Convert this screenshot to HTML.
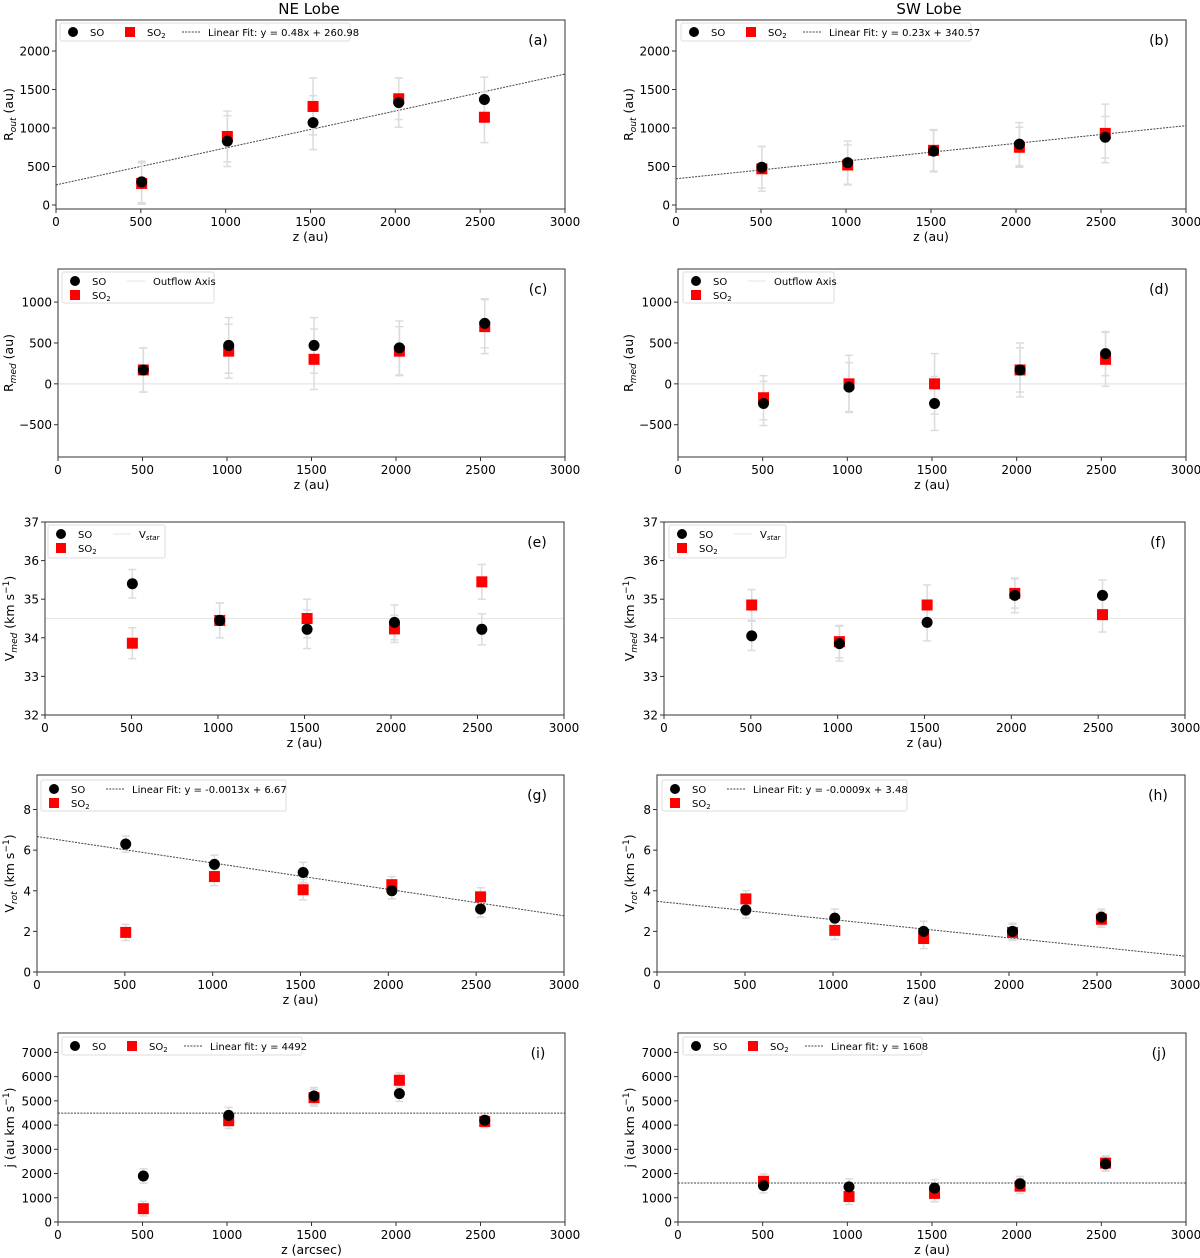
<!DOCTYPE html>
<html><head><meta charset="utf-8"><style>
body{margin:0;background:#fff;}
svg{display:block;font-family:"DejaVu Sans","Liberation Sans",sans-serif;}
</style></head><body>
<svg id="fig" width="1200" height="1258" viewBox="0 0 1200 1258" xmlns="http://www.w3.org/2000/svg">
<text x="309" y="14" font-size="15" text-anchor="middle">NE Lobe</text>
<text x="929" y="14" font-size="15" text-anchor="middle">SW Lobe</text>
</svg>
<script>
const zPos = [505, 1010, 1515, 2020, 2525];
const xTicks = [0, 500, 1000, 1500, 2000, 2500, 3000];
// (a)
const soA = [300, 830, 1070, 1330, 1370];
const soErrA = [270, 330, 350, 320, 290];
const so2A = [280, 890, 1280, 1380, 1140];
const so2ErrA = [270, 330, 370, 270, 330];
const fitA = [0.48, 260.98];
// (b)
const soB = [490, 550, 700, 790, 880];
const soErrB = [270, 280, 270, 280, 270];
const so2B = [470, 520, 710, 750, 930];
const so2ErrB = [290, 260, 270, 260, 380];
const fitB = [0.23, 340.57];
// (c)
const soC = [170, 470, 470, 440, 740];
const soErrC = [270, 340, 340, 330, 300];
const so2C = [170, 400, 300, 400, 700];
const so2ErrC = [270, 330, 370, 300, 330];
const axisC = 0;
// (d)
const soD = [-240, -40, -240, 170, 370];
const soErrD = [270, 300, 330, 270, 270];
const so2D = [-170, 0, 0, 170, 300];
const so2ErrD = [270, 350, 370, 330, 330];
const axisD = 0;
// (e)
const soE = [35.4, 34.45, 34.22, 34.4, 34.22];
const soErrE = [0.37, 0.45, 0.5, 0.45, 0.4];
const so2E = [33.86, 34.45, 34.5, 34.23, 35.45];
const so2ErrE = [0.4, 0.45, 0.5, 0.35, 0.45];
const vstarE = 34.5;
// (f)
const soF = [34.05, 33.85, 34.4, 35.1, 35.1];
const soErrF = [0.38, 0.45, 0.48, 0.45, 0.4];
const so2F = [34.85, 33.9, 34.85, 35.15, 34.6];
const so2ErrF = [0.4, 0.42, 0.52, 0.38, 0.45];
const vstarF = 34.5;
// (g)
const soG = [6.3, 5.3, 4.9, 4.0, 3.1];
const soErrG = [0.4, 0.45, 0.5, 0.4, 0.4];
const so2G = [1.95, 4.7, 4.05, 4.3, 3.7];
const so2ErrG = [0.4, 0.45, 0.5, 0.4, 0.45];
const fitG = [-0.0013, 6.67];
// (h)
const soH = [3.05, 2.65, 2.0, 2.0, 2.7];
const soErrH = [0.4, 0.45, 0.5, 0.4, 0.4];
const so2H = [3.6, 2.05, 1.65, 1.95, 2.6];
const so2ErrH = [0.4, 0.45, 0.5, 0.4, 0.4];
const fitH = [-0.0009, 3.48];
// (i)
const soI = [1900, 4400, 5200, 5300, 4200];
const soErrI = [300, 330, 350, 320, 200];
const so2I = [550, 4180, 5130, 5850, 4150];
const so2ErrI = [300, 320, 350, 300, 250];
const fitI = 4492;
// (j)
const soJ = [1500, 1450, 1400, 1580, 2400];
const soErrJ = [300, 330, 350, 300, 300];
const so2J = [1680, 1050, 1180, 1480, 2430];
const so2ErrJ = [300, 330, 350, 300, 300];
const fitJ = 1608;

const yTicksR = [0, 500, 1000, 1500, 2000];
const yTicksM = [-500, 0, 500, 1000];
const yTicksV = [32, 33, 34, 35, 36, 37];
const yTicksRot = [0, 2, 4, 6, 8];
const yTicksJ = [0, 1000, 2000, 3000, 4000, 5000, 6000, 7000];

const svg = document.getElementById('fig');
const NS = 'http://www.w3.org/2000/svg';
function mk(tag, attrs, parent) {
  const e = document.createElementNS(NS, tag);
  for (const k in attrs) e.setAttribute(k, attrs[k]);
  (parent || svg).appendChild(e);
  return e;
}

const panels = [
 {id:'a', L:56, R:565, T:20, B:209, ymin:-52, ymax:2403, ticks:yTicksR, so:soA, soE:soErrA, so2:so2A, so2E:so2ErrA, fit:fitA, legend:'row', lg:[60,23,350,41], fitLabel:'Linear Fit: y = 0.48x + 260.98', ylab:'R', ysub:'out', ytail:' (au)', ylx:9, xlab:'z (au)'},
 {id:'b', L:676, R:1186, T:20, B:209, ymin:-52, ymax:2403, ticks:yTicksR, so:soB, soE:soErrB, so2:so2B, so2E:so2ErrB, fit:fitB, legend:'row', lg:[681,23,971,41], fitLabel:'Linear Fit: y = 0.23x + 340.57', ylab:'R', ysub:'out', ytail:' (au)', ylx:629, xlab:'z (au)'},
 {id:'c', L:58, R:565, T:269, B:457, ymin:-895, ymax:1405, ticks:yTicksM, so:soC, soE:soErrC, so2:so2C, so2E:so2ErrC, hline:axisC, legend:'col', lg:[62,272,214,303], fitLabel:'Outflow Axis', ylab:'R', ysub:'med', ytail:' (au)', ylx:9, xlab:'z (au)'},
 {id:'d', L:678, R:1186, T:269, B:457, ymin:-895, ymax:1405, ticks:yTicksM, so:soD, soE:soErrD, so2:so2D, so2E:so2ErrD, hline:axisD, legend:'col', lg:[683,272,834,303], fitLabel:'Outflow Axis', ylab:'R', ysub:'med', ytail:' (au)', ylx:629, xlab:'z (au)'},
 {id:'e', L:45, R:564, T:522, B:715, ymin:32, ymax:37, ticks:yTicksV, so:soE, soE:soErrE, so2:so2E, so2E:so2ErrE, hline:vstarE, legend:'col', lg:[48,525,165,558], fitLabel:'V', fitSub:'star', ylab:'V', ysub:'med', ytail:' (km s', ysup:true, ylx:10, xlab:'z (au)'},
 {id:'f', L:664, R:1185, T:522, B:715, ymin:32, ymax:37, ticks:yTicksV, so:soF, soE:soErrF, so2:so2F, so2E:so2ErrF, hline:vstarF, legend:'col', lg:[669,525,786,558], fitLabel:'V', fitSub:'star', ylab:'V', ysub:'med', ytail:' (km s', ysup:true, ylx:630, xlab:'z (au)'},
 {id:'g', L:37, R:564, T:775, B:972, ymin:0, ymax:9.7, ticks:yTicksRot, so:soG, soE:soErrG, so2:so2G, so2E:so2ErrG, fit:fitG, legend:'col', lg:[41,780,286,811], fitLabel:'Linear Fit: y = -0.0013x + 6.67', ylab:'V', ysub:'rot', ytail:' (km s', ysup:true, ylx:10, xlab:'z (au)'},
 {id:'h', L:657, R:1185, T:775, B:972, ymin:0, ymax:9.7, ticks:yTicksRot, so:soH, soE:soErrH, so2:so2H, so2E:so2ErrH, fit:fitH, legend:'col', lg:[662,780,907,811], fitLabel:'Linear Fit: y = -0.0009x + 3.48', ylab:'V', ysub:'rot', ytail:' (km s', ysup:true, ylx:630, xlab:'z (au)'},
 {id:'i', L:58, R:565, T:1033, B:1222, ymin:0, ymax:7800, ticks:yTicksJ, so:soI, soE:soErrI, so2:so2I, so2E:so2ErrI, fitC:fitI, legend:'row', lg:[62,1037,302,1055], fitLabel:'Linear fit: y = 4492', ylab:'j (au km s', ysup:true, ylx:10, xlab:'z (arcsec)'},
 {id:'j', L:678, R:1186, T:1033, B:1222, ymin:0, ymax:7800, ticks:yTicksJ, so:soJ, soE:soErrJ, so2:so2J, so2E:so2ErrJ, fitC:fitJ, legend:'row', lg:[683,1037,922,1055], fitLabel:'Linear fit: y = 1608', ylab:'j (au km s', ysup:true, ylx:630, xlab:'z (au)'}
];

function drawCircle(g, x, y, name) {
  const c = mk('circle', {cx:x, cy:y, r:5.5, fill:'#000'}, g);
  
  
}
function drawSquare(g, x, y, name) {
  const r = mk('rect', {x:x-5.5, y:y-5.5, width:11, height:11, fill:'#f00'}, g);
  
  
}
function errBar(g, x, y1, y2, name) {
  const e = mk('g', {stroke:'#dcdcdc', 'stroke-width':1.5}, g);
  
  
  mk('line', {x1:x, x2:x, y1:y1, y2:y2}, e);
  mk('line', {x1:x-4, x2:x+4, y1:y1, y2:y1}, e);
  mk('line', {x1:x-4, x2:x+4, y1:y2, y2:y2}, e);
}

panels.forEach(p => {
  const g = mk('g', {});
  
  
  const xs = v => p.L + (v / 3000) * (p.R - p.L);
  const ys = v => p.B - (v - p.ymin) / (p.ymax - p.ymin) * (p.B - p.T);
  const defs = mk('clipPath', {id:'clip' + p.id}, g);
  mk('rect', {x:p.L, y:p.T, width:p.R - p.L, height:p.B - p.T}, defs);
  const plot = mk('g', {'clip-path':'url(#clip' + p.id + ')'}, g);

  // reference lines
  if (p.hline !== undefined) {
    const l = mk('line', {x1:p.L, x2:p.R, y1:ys(p.hline), y2:ys(p.hline), stroke:'#e6e6e6', 'stroke-width':1.2}, plot);
    
    
  }
  if (p.fit) {
    const l = mk('line', {x1:xs(0), x2:xs(3000), y1:ys(p.fit[1]), y2:ys(p.fit[0] * 3000 + p.fit[1]), stroke:'#444', 'stroke-width':1, 'stroke-dasharray':'2,1.2'}, plot);
    
    
  }
  if (p.fitC !== undefined) {
    const l = mk('line', {x1:p.L, x2:p.R, y1:ys(p.fitC), y2:ys(p.fitC), stroke:'#444', 'stroke-width':1, 'stroke-dasharray':'2,1.2'}, plot);
    
    
  }
  // error bars
  zPos.forEach((z, i) => {
    errBar(plot, xs(z), ys(p.so[i] - p.soE[i]), ys(p.so[i] + p.soE[i]), 'so-error-bar');
    errBar(plot, xs(z), ys(p.so2[i] - p.so2E[i]), ys(p.so2[i] + p.so2E[i]), 'so2-error-bar');
  });
  zPos.forEach((z, i) => {
    drawSquare(plot, xs(z), ys(p.so2[i]), 'so2-point');
    drawCircle(plot, xs(z), ys(p.so[i]), 'so-point');
  });
  // frame
  const fr = mk('rect', {x:p.L, y:p.T, width:p.R - p.L, height:p.B - p.T, fill:'none', stroke:'#333', 'stroke-width':1}, g);
  
  
  // x ticks
  xTicks.forEach(t => {
    const x = xs(t);
    mk('line', {x1:x, x2:x, y1:p.B, y2:p.B + 4, stroke:'#333'}, g);
    const tx = mk('text', {x:x, y:p.B + 17, 'font-size':12, 'text-anchor':'middle'}, g);
    tx.textContent = t;
    
    
  });
  p.ticks.forEach(t => {
    const y = ys(t);
    mk('line', {x1:p.L - 4, x2:p.L, y1:y, y2:y, stroke:'#333'}, g);
    const tx = mk('text', {x:p.L - 6, y:y + 4.5, 'font-size':12, 'text-anchor':'end'}, g);
    tx.textContent = t < 0 ? '\u2212' + Math.abs(t) : t;
    
    
  });
  // x label
  const xl = mk('text', {x:(p.L + p.R) / 2, y:p.B + 32, 'font-size':12.5, 'text-anchor':'middle'}, g);
  xl.textContent = p.xlab;
  
  
  // y label
  const cy = (p.T + p.B) / 2;
  const yl = mk('text', {x:0, y:0, 'font-size':12.5, 'text-anchor':'middle', transform:'translate(' + (p.ylx + 4) + ',' + cy + ') rotate(-90)'}, g);
  
  
  let t1 = mk('tspan', {}, yl); t1.textContent = p.ylab;
  if (p.ysub) { const s = mk('tspan', {'font-size':9, 'font-style':'italic', dy:3}, yl); s.textContent = p.ysub; const r = mk('tspan', {dy:-3}, yl); r.textContent = p.ytail; }
  if (p.ysup) { const s = mk('tspan', {'font-size':9, dy:-5}, yl); s.textContent = '\u22121'; const r = mk('tspan', {dy:5}, yl); r.textContent = ')'; }
  // panel label
  const pl = mk('text', {x:p.R - 27, y:p.T + 25, 'font-size':14, 'text-anchor':'middle'}, g);
  pl.textContent = '(' + p.id + ')';
  
  
  // legend
  const lg = mk('g', {}, g);
  
  
  const [lx, ly, rx, by] = p.lg;
  mk('rect', {x:lx, y:ly, width:rx - lx, height:by - ly, fill:'#fff', stroke:'#ddd', rx:2}, lg);
  let soX, soY, so2X, so2Y, fX, fY;
  if (p.legend === 'row') {
    soY = so2Y = fY = (ly + by) / 2;
    soX = lx + 13; so2X = lx + 70; fX = lx + 122;
  } else {
    soX = so2X = lx + 13; soY = ly + 9; so2Y = ly + 23;
    fX = lx + 65; fY = soY;
  }
  const e1 = mk('circle', {cx:soX, cy:soY, r:5, fill:'#000'}, lg);
   
  const t1l = mk('text', {x:soX + 17, y:soY + 4, 'font-size':10}, lg); t1l.textContent = 'SO';
   
  const e2 = mk('rect', {x:so2X - 5, y:so2Y - 5, width:10, height:10, fill:'#f00'}, lg);
   
  const t2l = mk('text', {x:so2X + 17, y:so2Y + 4, 'font-size':10}, lg);
   
  const a = mk('tspan', {}, t2l); a.textContent = 'SO';
  const b = mk('tspan', {'font-size':7, dy:2}, t2l); b.textContent = '2';
  const isRef = p.hline !== undefined;
  mk('line', {x1:fX, x2:fX + 18, y1:fY, y2:fY, stroke:isRef ? '#e6e6e6' : '#444', 'stroke-width':1, 'stroke-dasharray':isRef ? '' : '2,1.2'}, lg);
  const t3 = mk('text', {x:fX + 26, y:fY + 4, 'font-size':10}, lg);
   
  const c1 = mk('tspan', {}, t3); c1.textContent = p.fitLabel;
  if (p.fitSub) { const c2 = mk('tspan', {'font-size':7, 'font-style':'italic', dy:2}, t3); c2.textContent = p.fitSub; }
});
</script>
</body></html>
